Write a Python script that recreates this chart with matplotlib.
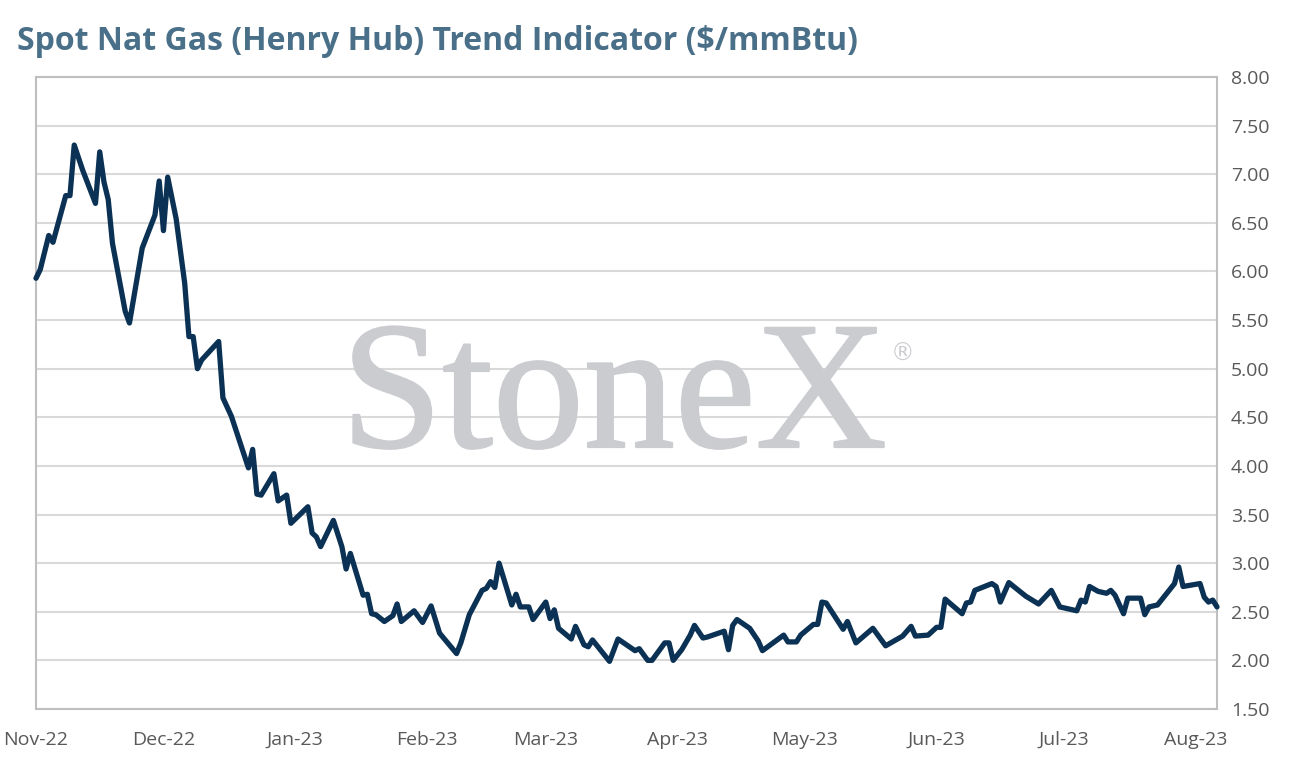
import matplotlib
matplotlib.use("Agg")
import matplotlib.pyplot as plt
import matplotlib.patheffects as pe
import pandas as pd

title = "Spot Nat Gas (Henry Hub) Trend Indicator ($/mmBtu)"

dates = [
    "2022-11-01", "2022-11-02", "2022-11-04", "2022-11-05", "2022-11-08", "2022-11-09",
    "2022-11-10", "2022-11-12", "2022-11-15", "2022-11-16", "2022-11-17", "2022-11-18",
    "2022-11-19", "2022-11-22", "2022-11-23", "2022-11-26", "2022-11-29", "2022-11-30",
    "2022-12-01", "2022-12-02", "2022-12-04", "2022-12-06", "2022-12-07", "2022-12-08",
    "2022-12-09", "2022-12-10", "2022-12-14", "2022-12-15", "2022-12-17", "2022-12-21",
    "2022-12-22", "2022-12-23", "2022-12-24", "2022-12-27", "2022-12-28", "2022-12-30",
    "2022-12-31", "2023-01-04", "2023-01-05", "2023-01-06", "2023-01-07", "2023-01-10",
    "2023-01-12", "2023-01-13", "2023-01-14", "2023-01-17", "2023-01-18", "2023-01-19",
    "2023-01-20", "2023-01-22", "2023-01-24", "2023-01-25", "2023-01-26", "2023-01-29",
    "2023-01-31", "2023-02-02", "2023-02-04", "2023-02-08", "2023-02-09", "2023-02-11",
    "2023-02-14", "2023-02-15", "2023-02-16", "2023-02-17", "2023-02-18", "2023-02-21",
    "2023-02-22", "2023-02-23", "2023-02-25", "2023-02-26", "2023-03-01", "2023-03-02",
    "2023-03-03", "2023-03-04", "2023-03-07", "2023-03-08", "2023-03-10", "2023-03-11",
    "2023-03-12", "2023-03-14", "2023-03-16", "2023-03-18", "2023-03-22", "2023-03-23",
    "2023-03-25", "2023-03-26", "2023-03-29", "2023-03-30", "2023-03-31", "2023-04-02",
    "2023-04-04", "2023-04-05", "2023-04-07", "2023-04-08", "2023-04-12", "2023-04-13",
    "2023-04-14", "2023-04-15", "2023-04-18", "2023-04-20", "2023-04-21", "2023-04-26",
    "2023-04-27", "2023-04-29", "2023-04-30", "2023-05-03", "2023-05-04", "2023-05-05",
    "2023-05-06", "2023-05-10", "2023-05-11", "2023-05-13", "2023-05-17", "2023-05-20",
    "2023-05-24", "2023-05-26", "2023-05-27", "2023-05-30", "2023-06-01", "2023-06-02",
    "2023-06-03", "2023-06-07", "2023-06-08", "2023-06-09", "2023-06-10", "2023-06-14",
    "2023-06-15", "2023-06-16", "2023-06-18", "2023-06-22", "2023-06-25", "2023-06-28",
    "2023-06-30", "2023-07-04", "2023-07-05", "2023-07-06", "2023-07-07", "2023-07-09",
    "2023-07-11", "2023-07-12", "2023-07-13", "2023-07-15", "2023-07-16", "2023-07-19",
    "2023-07-20", "2023-07-21", "2023-07-23", "2023-07-27", "2023-07-28", "2023-07-29",
    "2023-08-02", "2023-08-03", "2023-08-04", "2023-08-05", "2023-08-06",
]

prices = [
    5.93, 6.02, 6.37, 6.30, 6.78, 6.78,
    7.30, 7.04, 6.70, 7.23, 6.92, 6.74,
    6.29, 5.59, 5.47, 6.24, 6.58, 6.93,
    6.42, 6.97, 6.54, 5.88, 5.33, 5.33,
    5.00, 5.09, 5.28, 4.70, 4.51, 3.98,
    4.17, 3.71, 3.70, 3.92, 3.64, 3.70,
    3.41, 3.58, 3.31, 3.27, 3.17, 3.44,
    3.17, 2.94, 3.10, 2.67, 2.68, 2.48,
    2.47, 2.40, 2.46, 2.58, 2.40, 2.51,
    2.39, 2.56, 2.28, 2.07, 2.18, 2.47,
    2.72, 2.74, 2.81, 2.75, 3.00, 2.57,
    2.68, 2.55, 2.55, 2.42, 2.60, 2.43,
    2.52, 2.33, 2.22, 2.35, 2.16, 2.14,
    2.21, 2.10, 1.99, 2.22, 2.10, 2.12,
    2.00, 2.00, 2.18, 2.18, 2.00, 2.11,
    2.26, 2.36, 2.23, 2.24, 2.30, 2.11,
    2.36, 2.42, 2.33, 2.20, 2.10, 2.26,
    2.19, 2.19, 2.26, 2.37, 2.37, 2.60,
    2.59, 2.32, 2.40, 2.18, 2.33, 2.15,
    2.25, 2.35, 2.25, 2.26, 2.34, 2.34,
    2.63, 2.48, 2.59, 2.60, 2.72, 2.79,
    2.76, 2.60, 2.80, 2.66, 2.58, 2.72,
    2.55, 2.51, 2.62, 2.60, 2.76, 2.71,
    2.69, 2.72, 2.67, 2.48, 2.64, 2.64,
    2.47, 2.55, 2.57, 2.79, 2.96, 2.76,
    2.79, 2.65, 2.60, 2.62, 2.55,
]

month_ticks = ["2022-11-01", "2022-12-01", "2023-01-01", "2023-02-01", "2023-03-01",
               "2023-04-01", "2023-05-01", "2023-06-01", "2023-07-01", "2023-08-01"]
month_labels = ["Nov-22", "Dec-22", "Jan-23", "Feb-23", "Mar-23",
                "Apr-23", "May-23", "Jun-23", "Jul-23", "Aug-23"]
y_ticks = [1.5, 2.0, 2.5, 3.0, 3.5, 4.0, 4.5, 5.0, 5.5, 6.0, 6.5, 7.0, 7.5, 8.0]

x = pd.to_datetime(dates)

fig = plt.figure(figsize=(12.94, 7.71), dpi=100)
fig.patch.set_facecolor("white")
ax = fig.add_axes([36 / 1294, 1 - 709 / 771, (1217 - 36) / 1294, (709 - 77) / 771])
ax.patch.set_alpha(0)

# watermark behind axes
wm_color = "#CBCCD0"
fig.text(614 / 1294, 1 - 447 / 771, "StoneX", family="Liberation Serif", fontsize=131,
         color=wm_color, ha="center", va="baseline", zorder=0,
         path_effects=[pe.withStroke(linewidth=1.6, foreground=wm_color)])
fig.text(903 / 1294, 1 - 354 / 771, "®", family="DejaVu Sans", fontsize=17,
         color=wm_color, ha="center", va="center", zorder=0)

ax.plot(x, prices, color="#0B3254", lw=3.8, solid_joinstyle="round",
        solid_capstyle="round", zorder=3, clip_on=False)

ax.set_ylim(1.5, 8.0)
ax.set_xlim(pd.Timestamp("2022-11-01"), pd.Timestamp("2022-11-01") + pd.Timedelta(days=278))
ax.set_yticks(y_ticks)
ax.set_yticklabels([f"{v:.2f}" for v in y_ticks])
ax.set_xticks(pd.to_datetime(month_ticks))
ax.set_xticklabels(month_labels)
ax.yaxis.tick_right()
ax.tick_params(axis="both", length=0, labelsize=14, labelcolor="#595959")
ax.tick_params(axis="y", pad=10)
ax.tick_params(axis="x", pad=16)
for lab in ax.get_xticklabels() + ax.get_yticklabels():
    lab.set_family("Open Sans")

ax.grid(axis="y", color="#D9D9D9", lw=1.5, zorder=1)
ax.set_axisbelow(True)
for s in ax.spines.values():
    s.set_color("#BFBFBF")
    s.set_linewidth(1.5)

fig.text(17 / 1294, 1 - 42 / 771, title, family="Open Sans", fontweight="bold", fontsize=23,
         color="#4A7089", ha="left", va="center")

fig.savefig("out.png", dpi=100, facecolor="white")
